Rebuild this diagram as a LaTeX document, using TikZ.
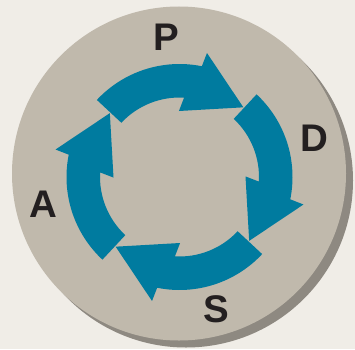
\documentclass[tikz,border=0pt]{standalone}
\usepackage{fontspec}
\setmainfont{Liberation Sans}
\definecolor{bgc}{RGB}{240,237,231}
\definecolor{discc}{RGB}{192,185,172}
\definecolor{shadowc}{RGB}{142,137,129}
\definecolor{arrowc}{RGB}{0,123,159}
\definecolor{inkc}{RGB}{35,31,32}
\begin{document}
\begin{tikzpicture}[x=1pt,y=1pt,
  letter/.style={font=\bfseries\fontsize{38.5}{40}\selectfont, text=inkc, inner sep=0pt},
  cyclearrow/.style={fill=arrowc}]
\fill[bgc] (0,0) rectangle (355,349);
\useasboundingbox (0,0) rectangle (355,349);
\fill[shadowc] (186,168.5) circle [radius=167pt];
\fill[discc] (179,175.5) circle [radius=167pt];
\foreach \r in {0,90,180,270} {
  \fill[cyclearrow, shift={(179.5,172)}, rotate=-\r]
    (137:113) arc[start angle=137, end angle=78.6, radius=113pt]
    -- (77.5:127) -- (47.5:94.5) -- (90.5:66) -- (86.7:79.5)
    arc[start angle=86.7, end angle=137, radius=79.5pt] -- cycle;
}
\node[letter] (P) at (166,312) {P};
\node[letter] (D) at (314.5,210.5) {D};
\node[letter] (S) at (216,40) {S};
\node[letter] (A) at (43,145) {A};
\end{tikzpicture}
\end{document}
